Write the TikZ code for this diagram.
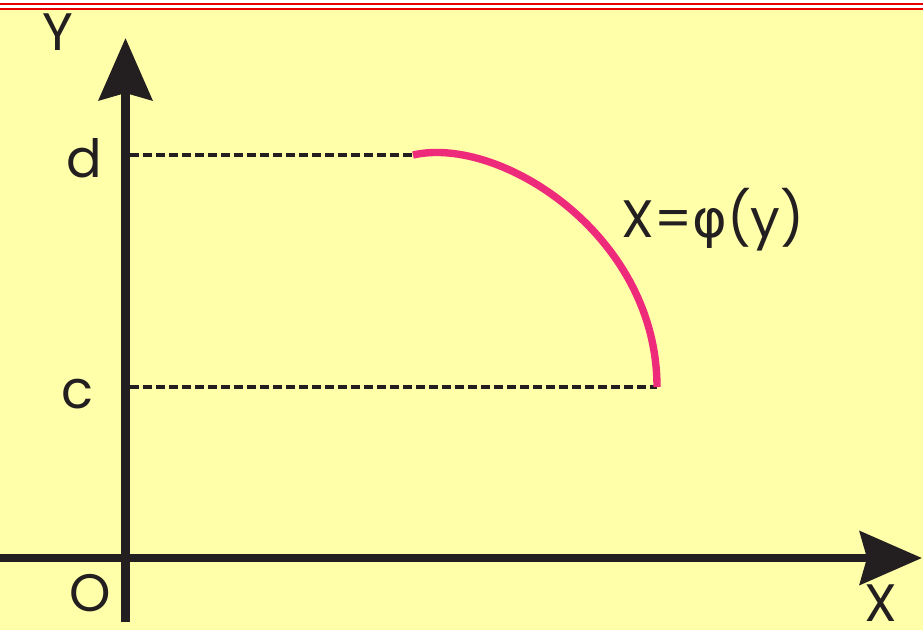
\documentclass[tikz,border=0pt]{standalone}
\usepackage{fontspec}
\setmainfont{Poppins}
\newfontfamily\grkfont{DejaVu Sans}
\usetikzlibrary{arrows.meta}

\definecolor{paper}{RGB}{255,255,170}
\definecolor{rule}{RGB}{232,0,0}
\definecolor{ink}{RGB}{35,31,32}
\definecolor{curvepink}{RGB}{238,42,123}

\begin{document}
\begin{tikzpicture}[
    x=0.02cm, y=-0.02cm,
    axis/.style={ink, line width=5.1pt,
      -{Stealth[length=1.24cm, width=1.06cm, inset=0.14cm]}},
    guide/.style={ink, line width=2.3pt, dash pattern=on 5.1pt off 2.3pt},
    graph/.style={curvepink, line width=4.2pt},
    lbl/.style={ink, font=\fontsize{30}{30}\selectfont, anchor=base, inner sep=0pt},
  ]

% Page: yellow sheet under a double red rule.
\fill[white] (0,0) rectangle (923,630);
\fill[paper] (0,9.5) rectangle (923,630);
\fill[rule] (0,3) rectangle (923,4.8);
\fill[rule] (0,7.5) rectangle (923,9.5);
\useasboundingbox (0,0) rectangle (923,630);

% Axes.
\coordinate (origin) at (125.5,558);
\coordinate (ybottom) at (125.5,622);
\coordinate (ytip) at (125.5,38);
\coordinate (xleft) at (0,558);
\coordinate (xtip) at (922,558);
\draw[axis] (xleft) -- (xtip);
\draw[axis] (ybottom) -- (ytip);
\node[lbl] (ylabel) at (58,50) {Y};
\node[lbl] (xlabel) at (881,621) {X};
\node[lbl] (olabel) at (90,611) {O};

% Levels c and d, carried to the ends of the curve.
\coordinate (dstart) at (130,155);
\coordinate (cstart) at (130,387);
\coordinate (curvetop) at (413,155);
\coordinate (curveend) at (657,387);
\draw[guide] (dstart) -- (curvetop);
\draw[guide] (cstart) -- (curveend);
\node[lbl] (dlabel) at (84,177) {d};
\node[lbl] (clabel) at (77,408) {c};

% The curve x = phi(y).
\draw[graph] (curvetop) .. controls (500,135) and (657,235) .. (curveend);
\node[lbl] (curvelabel) at (713,237) {X={\grkfont φ}(y)};

\end{tikzpicture}
\end{document}
